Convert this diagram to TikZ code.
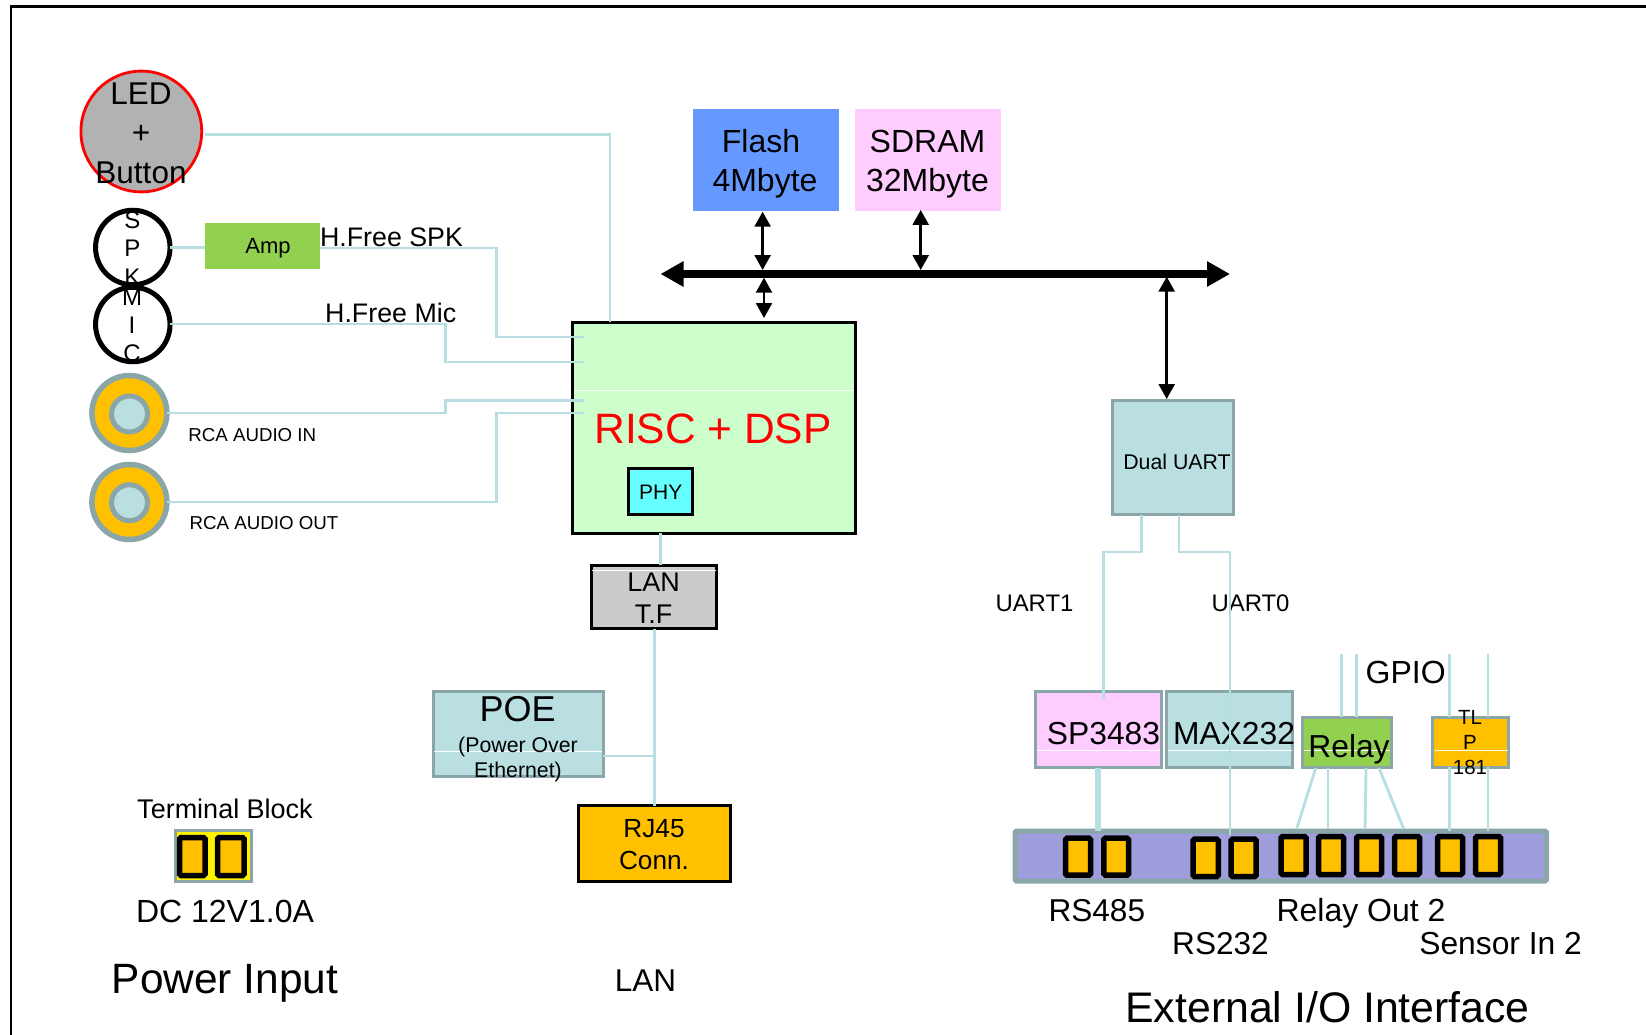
\documentclass[tikz,border=0pt]{standalone}
\usepackage{fontspec}
\setmainfont{Liberation Sans}
\usetikzlibrary{arrows.meta,calc}
\definecolor{edgegray}{HTML}{8AA6A8}
\definecolor{wirecol}{HTML}{B7DEE1}
\definecolor{tealfill}{HTML}{B9DFE1}
\definecolor{orangefill}{HTML}{FFC000}
\definecolor{greenfill}{HTML}{92D050}
\definecolor{pinkfill}{HTML}{FFCCFF}
\definecolor{bluefill}{HTML}{6699FF}
\definecolor{riscfill}{HTML}{CCFFCC}
\definecolor{phyfill}{HTML}{66FFFF}
\definecolor{grayfill}{HTML}{CBCBCB}
\definecolor{ledfill}{HTML}{B2B2B2}
\definecolor{barfill}{HTML}{9E9EDC}
\definecolor{redtext}{HTML}{FF0000}
\tikzset{
  boxplain/.style={rectangle,inner sep=0pt,outer sep=0pt},
  boxgray/.style={boxplain,draw=edgegray,line width=3pt},
  boxblack/.style={boxplain,draw=black,line width=3pt},
  pinbox/.style={boxplain,draw=black,fill=orangefill,line width=5.5pt,rounded corners=1.5pt},
  wire/.style={draw=wirecol,line width=2.8pt},
  wirethick/.style={draw=wirecol,line width=5.5pt},
  sheen/.style={draw=white,line width=1pt},
  busline/.style={draw=black,line width=8pt,{Triangle[length=23pt,width=24pt]}-{Triangle[length=23pt,width=24pt]}},
  linkarrow/.style={draw=black,line width=2.5pt,{Triangle[length=15pt,width=16pt]}-{Triangle[length=15pt,width=16pt]}},
  frameline/.style={draw=black,line width=2.5pt},
  lbl/.style={inner sep=0pt,outer sep=0pt,text=black},
  jack/.style={circle,inner sep=0pt,outer sep=0pt,draw=edgegray},
  mic/.style={circle,inner sep=0pt,outer sep=0pt,draw=black,line width=5pt,minimum size=74.5pt}
}
\newcommand{\bx}[6]{%
  \pgfmathsetmacro\bxw{#4-#2}\pgfmathsetmacro\bxh{#5-#3}%
  \pgfmathsetmacro\bxx{(#2+#4)/2}\pgfmathsetmacro\bxy{(#3+#5)/2}%
  \node[#6,minimum width=\bxw pt,minimum height=\bxh pt] (#1) at (\bxx,\bxy) {};}
\newcommand{\bxs}[6]{%
  \pgfmathsetmacro\bxw{#4-#2-2.5}\pgfmathsetmacro\bxh{#5-#3-2.5}%
  \pgfmathsetmacro\bxx{(#2+#4)/2}\pgfmathsetmacro\bxy{(#3+#5)/2}%
  \node[#6,minimum width=\bxw pt,minimum height=\bxh pt] (#1) at (\bxx,\bxy) {};}
\newcommand{\pin}[5]{%
  \pgfmathsetmacro\bxw{#4-#2-5}\pgfmathsetmacro\bxh{#5-#3-5}%
  \pgfmathsetmacro\bxx{(#2+#4)/2}\pgfmathsetmacro\bxy{(#3+#5)/2}%
  \node[pinbox,minimum width=\bxw pt,minimum height=\bxh pt] (#1) at (\bxx,\bxy) {};}
\newcommand{\txt}[5]{%
  \pgfmathsetmacro\bxy{#3+0.358*#4}%
  \node[lbl,anchor=base,font=\fontsize{#4}{#4}\selectfont] (#1) at (#2,\bxy) {#5};}
\newcommand{\mtxt}[6]{%
  \node[lbl,anchor=center,align=center,font=\fontsize{#4}{#5}\selectfont] (#1) at (#2,#3) {#6};}
\begin{document}
\begin{tikzpicture}[x=1pt,y=-1pt]
\useasboundingbox (0,0) rectangle (1646,1035);
% frame
\coordinate (fa) at (10.8,1035);
\coordinate (fb) at (10.8,6.3);
\coordinate (fc) at (1646,6.3);
\draw[frameline] (fa) -- (fb) -- (fc);
% left-hand parts
\node[circle,inner sep=0pt,outer sep=0pt,draw=red,fill=ledfill,line width=2.8pt,minimum size=120.8pt] (led) at (141.3,131.5) {};
\node[mic] (spk) at (132.8,247.5) {};
\node[mic] (micr) at (132.8,324.5) {};
\node[jack,fill=orangefill,line width=5.5pt,minimum size=75pt] (rcain) at (129.4,413) {};
\node[jack,fill=tealfill,line width=5pt,minimum size=36pt] (rcainc) at (129.5,414) {};
\node[jack,fill=orangefill,line width=5.5pt,minimum size=75pt] (rcaout) at (129.4,502) {};
\node[jack,fill=tealfill,line width=5pt,minimum size=36pt] (rcaoutc) at (129.5,502.7) {};
\bx{amp}{205}{223}{320}{269}{boxplain,fill=greenfill}
% centre boxes
\bx{flash}{693}{109}{839}{211}{boxplain,fill=bluefill}
\bx{sdram}{855}{109}{1001}{211}{boxplain,fill=pinkfill}
\bxs{risc}{571}{321}{857}{534.5}{boxblack,fill=riscfill}
\draw[sheen] (574,390.4) -- (854,390.4);
\bxs{phy}{627.2}{467.5}{694}{515.5}{boxblack,fill=phyfill}
\bxs{lantf}{590}{564.5}{718}{629.5}{boxblack,fill=grayfill}
\draw[sheen] (592,570) -- (716,570);
\bxs{poe}{432}{690.5}{604.5}{777.5}{boxgray,fill=tealfill}
\draw[sheen] (434,751) -- (602,751);
\bxs{rj}{577}{804.5}{731.5}{882.5}{boxblack,fill=orangefill}
% terminal block
\bxs{tblock}{174}{829}{252.5}{882.7}{boxgray,fill=yellow}
\pin{tpa}{177}{835}{207.5}{878}
\pin{tpb}{215}{835}{246.5}{878}
% right-hand boxes
\bxs{duart}{1111.5}{399}{1234.5}{515.5}{boxgray,fill=tealfill}
\bxs{sp}{1034}{690}{1162.5}{768.5}{boxgray,fill=pinkfill}
\bxs{max}{1165.5}{690}{1294}{768.5}{boxgray,fill=tealfill}
\bxs{relay}{1301.5}{716}{1392.5}{768.5}{boxgray,fill=greenfill}
\bxs{tlp}{1431.5}{716}{1509.5}{768.5}{boxgray,fill=orangefill}
\draw[sheen] (1036.5,750) -- (1160,750);
\draw[sheen] (1168,750) -- (1292,750);
\draw[sheen] (1304,750) -- (1390,750);
\draw[sheen] (1434.5,750) -- (1507.5,750);
% connector strip
\bx{strip}{1015}{831}{1546.5}{881}{boxplain,draw=edgegray,fill=barfill,line width=5pt,rounded corners=1.5pt}
\pin{pa}{1063}{835.7}{1093}{877.7}
\pin{pb}{1101.4}{835.7}{1131}{877.7}
\pin{pc}{1190.6}{836.7}{1220.8}{879}
\pin{pd}{1228.5}{836.7}{1258.7}{879}
\pin{pe}{1278.6}{834}{1308.5}{877}
\pin{pf}{1316}{834}{1346}{877}
\pin{pg}{1354}{834}{1384}{877}
\pin{ph}{1392}{834}{1422}{877}
\pin{pi}{1435}{834}{1465}{877}
\pin{pj}{1473}{834}{1503}{877}
% texts
\mtxt{ledt}{141}{133}{31.5}{39.5}{LED\\+\\Button}
\mtxt{spkt}{132.3}{248.5}{24}{28.5}{S\\P\\K}
\mtxt{mict}{132}{325}{24}{28}{M\\I\\C}
\txt{ampt}{268}{246}{22}{Amp}
\txt{hspk}{391.5}{236.7}{26.8}{H.Free SPK}
\txt{hmic}{390.7}{312.7}{26.8}{H.Free Mic}
\txt{rcat}{252.3}{434.6}{18.7}{RCA AUDIO IN}
\txt{rcou}{264}{522.6}{18.7}{RCA AUDIO OUT}
\mtxt{flasht}{765}{163.8}{32}{39}{Flash\hspace*{8pt}\\4Mbyte}
\mtxt{sdramt}{927.5}{163.8}{32}{39}{SDRAM\\32Mbyte}
\txt{risct}{713}{428.5}{42.5}{\color{redtext}RISC + DSP}
\txt{phyt}{660.7}{492}{21}{PHY}
\mtxt{lant}{653.7}{598}{27}{32}{LAN\\T.F}
\txt{poet}{517.7}{709}{36}{POE}
\mtxt{poes}{518}{759.7}{21.3}{25.5}{(Power Over\\Ethernet)}
\mtxt{rjt}{654}{844.5}{26.2}{32.5}{RJ45\\Conn.}
\txt{tbt}{225}{809}{27}{Terminal Block}
\txt{dct}{225}{910.7}{32}{DC 12V1.0A}
\txt{pwr}{225}{978.5}{42.4}{Power Input}
\txt{lanl}{645.5}{980.7}{31.5}{LAN}
\txt{duartt}{1177}{461.7}{21.3}{Dual UART}
\txt{ua}{1034.5}{602.7}{23.9}{UART1}
\txt{ub}{1250.5}{602.7}{23.9}{UART0}
\txt{gpio}{1405.7}{671.7}{32}{GPIO}
\txt{spt}{1103.5}{733.5}{31.8}{SP3483}
\txt{maxt}{1234}{733.5}{31.8}{MAX232}
\txt{relt}{1349}{746.5}{31.8}{Relay}
\mtxt{tlpt}{1470}{743}{20.5}{25}{TL\\P\\181}
\txt{rs4}{1096.8}{910}{31.6}{RS485}
\txt{rs2}{1220.5}{942.7}{31.6}{RS232}
\txt{rlo}{1361}{910}{32}{Relay Out 2}
\txt{sen}{1500.6}{942.7}{31.8}{Sensor In 2}
\txt{ext}{1327.6}{1007.5}{42.8}{External I/O Interface}
% wire way-points
\coordinate (ledy) at (205.3,134.5);
\coordinate (ledx) at (610,134.5);
\coordinate (ledz) at (610,322);
\draw[wire] (ledy) -- (ledx) -- (ledz);
\coordinate (s1) at (496.3,248);
\coordinate (s2) at (496.3,337);
\coordinate (s3) at (584.4,337);
\draw[wire] (spk.east) -- (amp.west |- spk.east);
\draw[wire] (amp.east |- s1) -- (s1) -- (s2) -- (s3);
\coordinate (m1) at (445.7,324);
\coordinate (m2) at (445.7,362);
\coordinate (m3) at (584.4,362);
\draw[wire] (micr.east |- m1) -- (m1) -- (m2) -- (m3);
\coordinate (i1) at (445.7,413);
\coordinate (i2) at (445.7,400.6);
\coordinate (i3) at (584.4,400.6);
\draw[wire] (rcain.east |- i1) -- (i1) -- (i2) -- (i3);
\coordinate (o1) at (496.3,502);
\coordinate (o2) at (496.3,413);
\coordinate (o3) at (584.4,413);
\draw[wire] (rcaout.east |- o1) -- (o1) -- (o2) -- (o3);
% LAN wires
\coordinate (lx) at (660.3,565);
\draw[wire] (risc.south -| lx) -- (lx);
\coordinate (ly) at (654.3,629);
\draw[wire] (ly) -- (rj.north -| ly);
\coordinate (lz) at (654.3,756);
\draw[wire] (poe.east |- lz) -- (lz);
% bus
\coordinate (busl) at (660.5,274);
\coordinate (busr) at (1230,274);
\draw[busline] (busl) -- (busr);
\coordinate (fb1) at (762.6,211.7);
\coordinate (fb2) at (762.6,270);
\draw[linkarrow] (fb1) -- (fb2);
\coordinate (sb1) at (920.7,210);
\coordinate (sb2) at (920.7,270);
\draw[linkarrow] (sb1) -- (sb2);
\coordinate (cb1) at (764,277.7);
\coordinate (cb2) at (764,318);
\draw[linkarrow] (cb1) -- (cb2);
\coordinate (ub1) at (1166.7,276.7);
\coordinate (ub2) at (1166.7,399);
\draw[linkarrow] (ub1) -- (ub2);
% UART wires
\coordinate (u1a) at (1141.7,515);
\coordinate (u1b) at (1141.7,552);
\coordinate (u1c) at (1103.7,552);
\coordinate (u1d) at (1103.7,699);
\draw[wire] (u1a) -- (u1b) -- (u1c) -- (u1d);
\coordinate (u0a) at (1179,515);
\coordinate (u0b) at (1179,552);
\coordinate (u0c) at (1230,552);
\coordinate (u0d) at (1230,835);
\draw[wire] (u0a) -- (u0b) -- (u0c) -- (u0d);
\coordinate (rsx) at (1098,768);
\draw[wirethick] (rsx) -- (strip.north -| rsx);
% GPIO wires
\coordinate (g1) at (1341.4,654);
\coordinate (g2) at (1356.7,654);
\coordinate (g3) at (1449.7,654);
\coordinate (g4) at (1488,654);
\draw[wire] (g1) -- (relay.north -| g1);
\draw[wire] (g2) -- (relay.north -| g2);
\draw[wire] (g3) -- (tlp.north -| g3);
\draw[wire] (g4) -- (tlp.north -| g4);
\draw[wire] (tlp.south -| g3) -- (strip.north -| g3);
\draw[wire] (tlp.south -| g4) -- (strip.north -| g4);
% relay outputs
\coordinate (r1a) at (1315.7,768);
\coordinate (r1b) at (1296.6,829);
\coordinate (r2a) at (1328,768);
\coordinate (r2b) at (1328,829);
\coordinate (r3a) at (1366,768);
\coordinate (r3b) at (1365,829);
\coordinate (r4a) at (1379,768);
\coordinate (r4b) at (1403.7,829);
\draw[wire] (r1a) -- (r1b);
\draw[wire] (r2a) -- (r2b);
\draw[wire] (r3a) -- (r3b);
\draw[wire] (r4a) -- (r4b);
\end{tikzpicture}
\end{document}
